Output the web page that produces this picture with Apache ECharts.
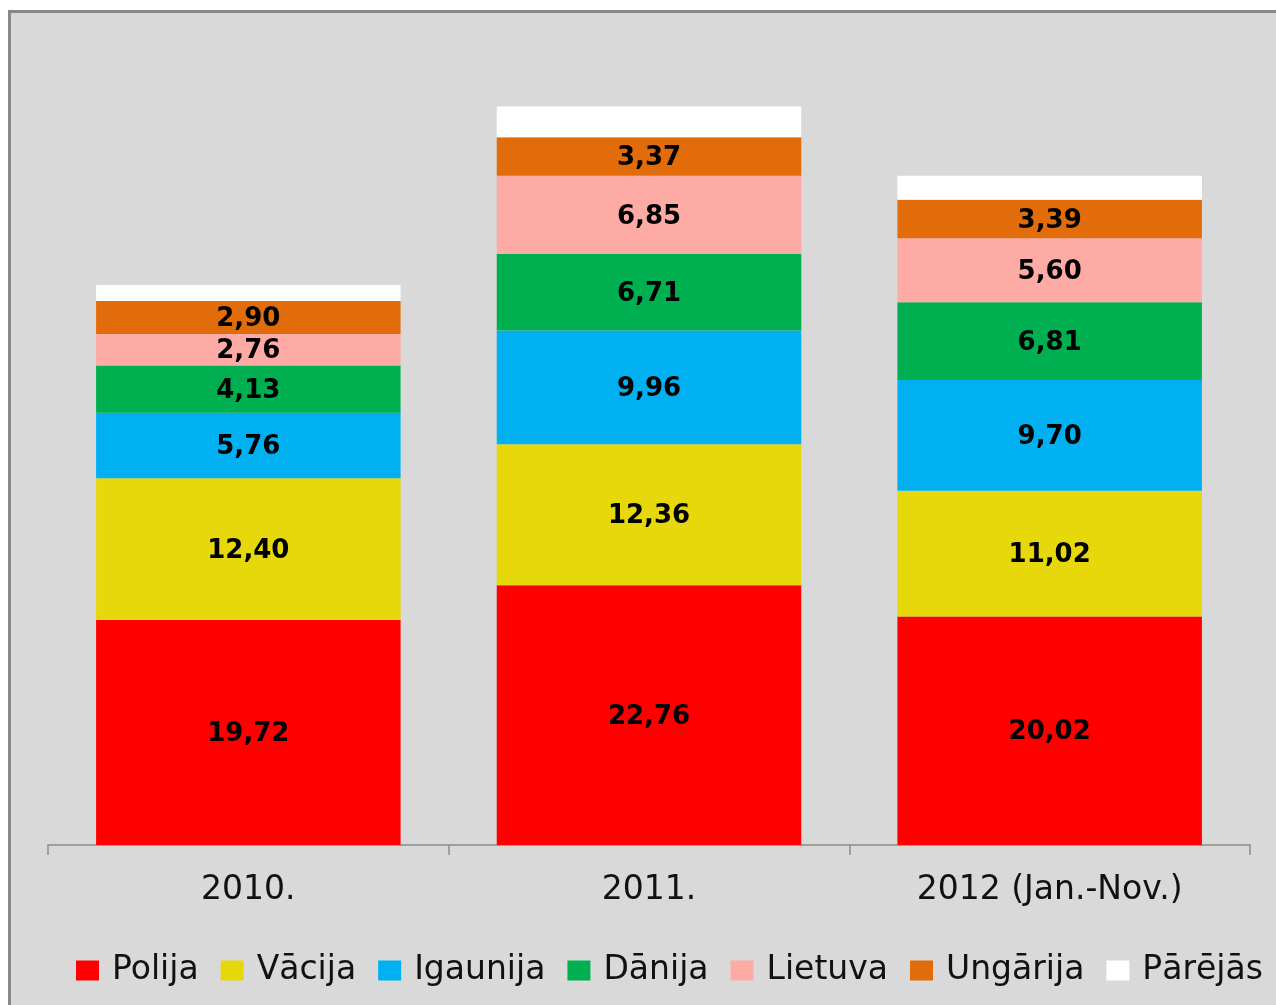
<!DOCTYPE html>
<html>
<head>
<meta charset="utf-8">
<script src="https://cdn.jsdelivr.net/npm/echarts@6/dist/echarts.min.js"></script>
<style>
html, body { margin: 0; padding: 0; background: #fff; }
.frame {
    position: absolute; left: 8px; top: 10px;
    width: 1300px; height: 1100px;
    background: #d9d9d9;
    border-left: 3px solid #888;
    border-top: 3px solid #888;
}
#chart { position: absolute; left: 0; top: 0; width: 1276px; height: 1005px; }
</style>
</head>
<body>
<div class="frame"></div>
<div id="chart"></div>
<script>
const categories = ['2010.', '2011.', '2012 (Jan.-Nov.)'];
const seriesNames = ['Polija', 'Vācija', 'Igaunija', 'Dānija', 'Lietuva', 'Ungārija', 'Pārējās'];
const polija = [19.72, 22.76, 20.02];
const vacija = [12.40, 12.36, 11.02];
const igaunija = [5.76, 9.96, 9.70];
const danija = [4.13, 6.71, 6.81];
const lietuva = [2.76, 6.85, 5.60];
const ungarija = [2.90, 3.37, 3.39];
const parejas = [1.4, 2.7, 2.1]; // no labels in the picture
const colors = ['#ff0000', '#e6d80a', '#00b0f0', '#00b050', '#ffaba5', '#e36c0a', '#ffffff'];

const chart = echarts.init(document.getElementById('chart'));
const font = 'DejaVu Sans';

function makeSeries(name, data, idx, showLabel) {
    return {
        name: name,
        type: 'bar',
        stack: 'total',
        barWidth: '76%',
        data: data,
        itemStyle: { color: colors[idx] },
        label: {
            show: showLabel,
            position: 'inside',
            color: '#000',
            fontFamily: font,
            fontWeight: 'bold',
            fontSize: 26,
            offset: [0, 2],
            formatter: p => p.value.toFixed(2).replace('.', ',')
        }
    };
}

const option = {
    backgroundColor: 'transparent',
    animation: false,
    grid: { left: 48, right: 26, top: 46, bottom: 160 },
    legend: {
        data: seriesNames,
        icon: 'rect',
        left: 71,
        top: 949,
        width: 1400,
        itemWidth: 23,
        itemHeight: 20,
        itemGap: 22,
        textStyle: { fontFamily: font, fontSize: 33, color: '#111', padding: [0, 0, 0, 8] }
    },
    xAxis: {
        type: 'category',
        data: categories,
        axisLine: { lineStyle: { color: '#8c8c8c', width: 1.5 } },
        axisTick: { show: true, length: 10, lineStyle: { color: '#8c8c8c', width: 1.5 } },
        axisLabel: { fontFamily: font, fontSize: 33, color: '#111', margin: 29 }
    },
    yAxis: {
        type: 'value',
        min: 0,
        max: 70,
        show: false,
        splitLine: { show: false }
    },
    series: [
        makeSeries(seriesNames[0], polija, 0, true),
        makeSeries(seriesNames[1], vacija, 1, true),
        makeSeries(seriesNames[2], igaunija, 2, true),
        makeSeries(seriesNames[3], danija, 3, true),
        makeSeries(seriesNames[4], lietuva, 4, true),
        makeSeries(seriesNames[5], ungarija, 5, true),
        makeSeries(seriesNames[6], parejas, 6, false)
    ]
};
chart.setOption(option);
</script>
</body>
</html>
